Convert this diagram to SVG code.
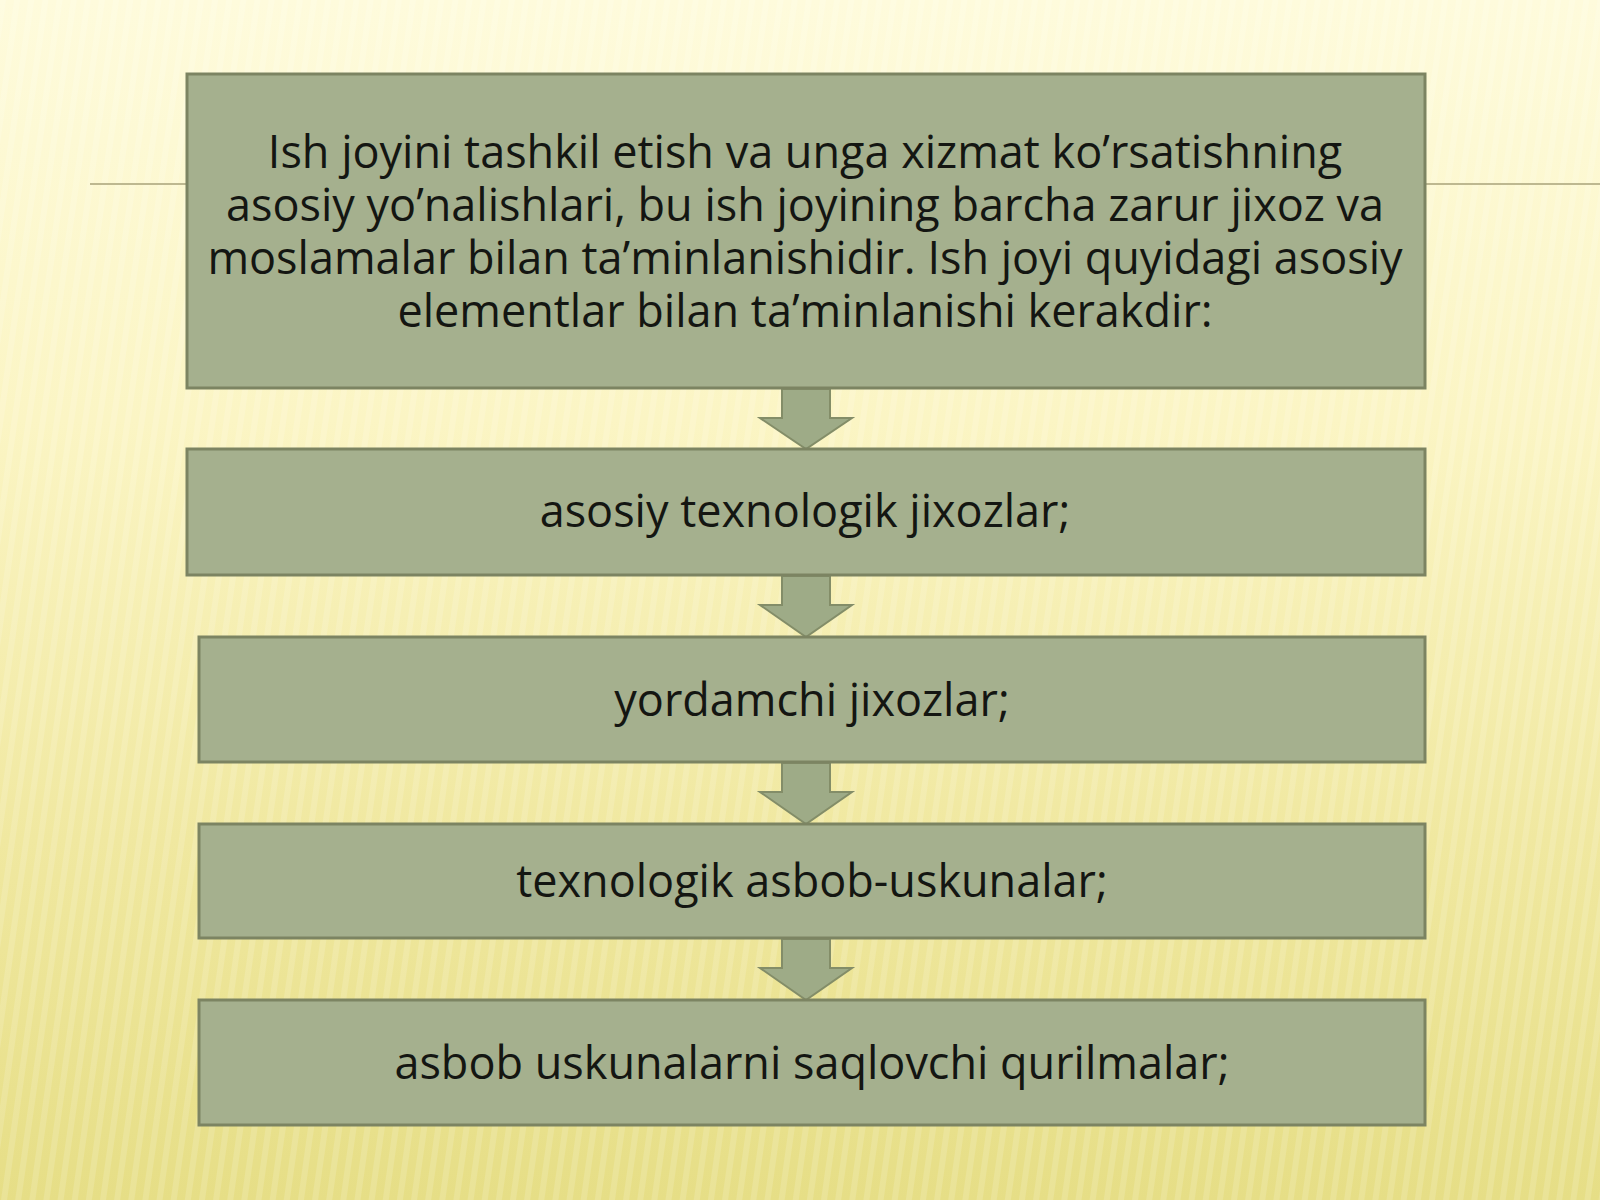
<svg xmlns="http://www.w3.org/2000/svg" width="1600" height="1200" viewBox="0 0 1600 1200">
<defs>
<linearGradient id="bg" x1="0" y1="0" x2="0" y2="1">
<stop offset="0" stop-color="#fefbdc"/>
<stop offset="0.35" stop-color="#fbf5c4"/>
<stop offset="0.7" stop-color="#f0e8a0"/>
<stop offset="1" stop-color="#e6de86"/>
</linearGradient>
<pattern id="stripes" width="14" height="40" patternUnits="userSpaceOnUse" patternTransform="rotate(8)">
<rect width="6" height="40" fill="#ffffff" opacity="0.14"/>
</pattern>
<style>
.box{fill:#a5b08e;stroke:#7c8462;stroke-width:3}
.arrow{fill:#9eab87;stroke:#838d68;stroke-width:2;stroke-linejoin:miter}
.t{font-family:"Open Sans","Noto Sans","DejaVu Sans",sans-serif;font-size:45px;fill:#141612;text-anchor:middle}
.rule{stroke:#bdb890;stroke-width:2}
</style>
</defs>
<rect width="1600" height="1200" fill="url(#bg)"/>
<rect width="1600" height="1200" fill="url(#stripes)"/>
<line class="rule" x1="90" y1="184" x2="187" y2="184"/>
<line class="rule" x1="1426" y1="184" x2="1600" y2="184"/>
<g id="connectors">
<path class="arrow" d="M782,389 L830,389 L830,418 L852,418 L806,449 L760,418 L782,418 Z"/>
<path class="arrow" d="M782,576 L830,576 L830,605 L852,605 L806,637 L760,605 L782,605 Z"/>
<path class="arrow" d="M782,763 L830,763 L830,792 L852,792 L806,824 L760,792 L782,792 Z"/>
<path class="arrow" d="M782,939 L830,939 L830,968 L852,968 L806,1000 L760,968 L782,968 Z"/>
</g>
<g id="node1">
<rect class="box" x="187" y="74" width="1238" height="314"/>
<text class="t" x="805" y="168">Ish joyini tashkil etish va unga xizmat ko’rsatishning</text>
<text class="t" x="805" y="221">asosiy yo’nalishlari, bu ish joyining barcha zarur jixoz va</text>
<text class="t" x="805" y="274">moslamalar bilan ta’minlanishidir. Ish joyi quyidagi asosiy</text>
<text class="t" x="805" y="327">elementlar bilan ta’minlanishi kerakdir:</text>
</g>
<g id="node2">
<rect class="box" x="187" y="449" width="1238" height="126"/>
<text class="t" x="805" y="527">asosiy texnologik jixozlar;</text>
</g>
<g id="node3">
<rect class="box" x="199" y="637" width="1226" height="125"/>
<text class="t" x="812" y="716">yordamchi jixozlar;</text>
</g>
<g id="node4">
<rect class="box" x="199" y="824" width="1226" height="114"/>
<text class="t" x="812" y="897">texnologik asbob-uskunalar;</text>
</g>
<g id="node5">
<rect class="box" x="199" y="1000" width="1226" height="125"/>
<text class="t" x="812" y="1079">asbob uskunalarni saqlovchi qurilmalar;</text>
</g>
</svg>
